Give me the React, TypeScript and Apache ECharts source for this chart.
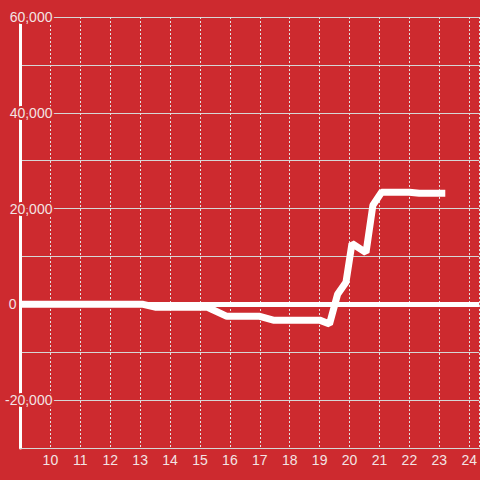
import React, { useEffect, useRef } from "react";
import * as echarts from "echarts";

const hours = [9, 13.1, 13.5, 15.25, 15.9, 17.0, 17.45, 19.0, 19.33, 19.6, 19.88, 20.08, 20.55, 20.78, 21.07, 22.0, 22.33, 23.2];
const values = [0, 0, -600, -600, -2500, -2500, -3300, -3300, -4100, 2100, 4600, 12700, 10800, 20700, 23400, 23400, 23200, 23200];
const xTickLabels = ["10", "11", "12", "13", "14", "15", "16", "17", "18", "19", "20", "21", "22", "23", "24"];
const yLabelValues = [-20000, 0, 20000, 40000, 60000];

const BG = "#cd2a2f";
const TXT = "#f3e4e4";
const GRID = "#d6d6d6";

export default function App() {
  const ref = useRef<HTMLDivElement>(null);
  useEffect(() => {
    document.body.style.margin = "0";
    if (!ref.current) return;
    const chart = echarts.init(ref.current, null, { renderer: "svg" });
    const font = "'Liberation Sans', Arial, sans-serif";
    const labelRich = {
      a: { color: TXT, fontSize: 14, fontFamily: font, textBorderColor: BG, textBorderWidth: 4 },
      z: { color: TXT, fontSize: 14, fontFamily: font, padding: [0, 36, 0, 0] },
    };
    chart.setOption({
      animation: false,
      backgroundColor: BG,
      grid: { left: 20, right: 0, top: 17, bottom: 32, containLabel: false },
      xAxis: {
        type: "value",
        min: 9,
        max: 9 + 46 / 3,
        interval: 1,
        axisLine: { show: true, onZero: false, lineStyle: { color: GRID, width: 1 } },
        axisTick: { show: false },
        splitLine: { show: true, lineStyle: { color: "#e2e2e2", width: 1, type: [2, 2] } },
        axisLabel: {
          color: TXT,
          fontSize: 14,
          fontFamily: font,
          margin: 5,
          showMinLabel: false,
          showMaxLabel: false,
          formatter: (v: number) => {
            const s = String(Math.round(v));
            return Math.abs(v - Math.round(v)) < 1e-6 && xTickLabels.includes(s) ? s : "";
          },
        },
      },
      yAxis: {
        type: "value",
        min: -30000,
        max: 60000,
        interval: 10000,
        axisLine: { show: true, lineStyle: { color: "#ffffff", width: 3 } },
        axisTick: { show: false },
        splitLine: { show: true, lineStyle: { color: GRID, width: 1 } },
        axisLabel: {
          align: "right",
          margin: -32,
          rich: labelRich,
          formatter: (v: number) => {
            if (!yLabelValues.includes(v)) return "";
            if (v === 0) return "{z|0}";
            return "{a|" + v.toLocaleString("en-US") + "}";
          },
        },
      },
      series: [
        {
          type: "line",
          data: hours.map((h, i) => [h, values[i]]),
          showSymbol: false,
          symbol: "none",
          lineStyle: { color: "#ffffff", width: 7 },
          z: 3,
          markLine: {
            silent: true,
            symbol: ["none", "none"],
            label: { show: false },
            lineStyle: { color: "#ffffff", width: 5, type: "solid" },
            data: [{ yAxis: 0 }],
          },
        },
      ],
    });
    return () => chart.dispose();
  }, []);
  return <div ref={ref} style={{ width: 480, height: 480 }} />;
}
